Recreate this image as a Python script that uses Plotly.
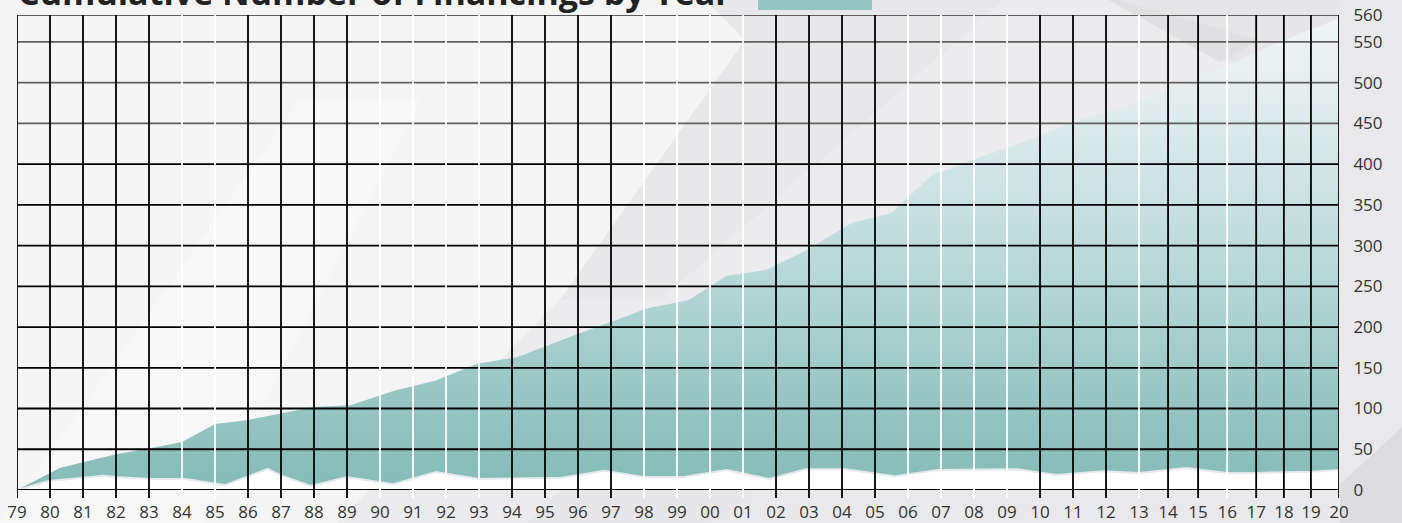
import numpy as np
import plotly.graph_objects as go

W, H = 1402, 523
ML, MR, MT, MB = 17, 63, 15, 33

title_text = "Cumulative Number of Financings by Year"

year_labels = ["79", "80", "81", "82", "83", "84", "85", "86", "87", "88", "89",
               "90", "91", "92", "93", "94", "95", "96", "97", "98", "99",
               "00", "01", "02", "03", "04", "05", "06", "07", "08", "09",
               "10", "11", "12", "13", "14", "15", "16", "17", "18", "19", "20"]
tick_years = list(range(1979, 2021))
# axis position of each year tick (last years are squeezed)
tick_pos = list(range(0, 35)) + [34.88, 35.79, 36.67, 37.55, 38.39, 39.21, 40.06]

# cumulative number of financings (upper edge of the teal area)
cum_years = [1979, 1980.3, 1981, 1982, 1983, 1984, 1985, 1986, 1987, 1988, 1989.1,
             1990.45, 1991.67, 1992.1, 1992.94, 1994.15, 1995.06, 1996.15, 1997.06,
             1998.1, 1999.35, 2000.5, 2001.7, 2003.0, 2004.3, 2005.5, 2006.75,
             2007.06, 2008, 2009, 2010, 2011, 2012, 2013, 2014, 2015, 2016, 2017,
             2018, 2019, 2020]
cum_values = [0, 27, 34, 44, 51, 59, 81, 86, 94, 102, 104,
              122, 134, 141, 155, 163, 177, 194, 207,
              223, 233, 263, 270, 296, 328, 340, 388,
              391, 406, 420, 435, 451, 464, 477, 492, 506, 520, 538,
              552, 565, 579]

# financings per year (white line)
annual_years = [1979, 1979.95, 1981, 1981.6, 1982, 1983.1, 1984.1, 1985.3, 1986.6,
                1987, 1987.9, 1989, 1990.4, 1991.7, 1993, 1995.5, 1996.8, 1998,
                1999.2, 2000.5, 2001.8, 2002.9, 2004.1, 2005.6, 2006.9, 2009.3,
                2010.5, 2011.9, 2013, 2014.6, 2016, 2017, 2019, 2020]
annual_values = [0, 11, 15, 17.5, 16, 13.5, 13.5, 6, 26,
                 18, 5, 16, 7, 22, 13.5, 15, 23.5, 16,
                 16, 24.5, 13.5, 25.5, 25.5, 17, 24.5, 25.5,
                 18.5, 23, 21, 27, 21, 21, 22.5, 24.5]

y_tickvals = [0, 50, 100, 150, 200, 250, 300, 350, 400, 450, 500, 550, 583]
y_ticktext = ["0", "50", "100", "150", "200", "250", "300", "350", "400",
              "450", "500", "550", "560"]

# styles
vgrid_colors = ["#000"] * 5 + ["#fff"] * 2 + ["#000"] * 4 + ["#fff"] * 4 + ["#000"] * 4 + \
               ["#fff"] * 4 + ["#000"] * 4 + ["#fff"] * 4 + ["#000"] * 3 + ["#fff"] + \
               ["#000"] * 2 + ["#fff"] + ["#000"] * 4
hgrid_colors = ["#000"] * 9 + ["#5f5f5f"] * 4

X_MAX = tick_pos[-1]
Y_MAX = 583

def to_axis(years):
    return np.interp(years, tick_years, tick_pos)

pw = W - ML - MR
ph = H - MT - MB
def px(x):
    return (x - ML) / pw
def py(y):
    return (H - MB - y) / ph

def poly(points):
    return "M " + " L ".join(f"{px(x):.5f},{py(y):.5f}" for x, y in points) + " Z"

fig = go.Figure()

fig.add_trace(go.Scatter(
    x=to_axis(annual_years), y=annual_values, mode="lines",
    line=dict(color="#e3e9ed", width=2),
    fill="tozeroy", fillcolor="rgba(255,255,255,0.95)",
    hoverinfo="skip", showlegend=False))

fig.add_trace(go.Scatter(
    x=to_axis(cum_years), y=cum_values, mode="lines",
    line=dict(width=0, color="rgba(0,0,0,0)"),
    fill="tonexty",
    fillgradient=dict(type="vertical", colorscale=[
        [0.0, "#84bbb8"], [0.2, "#98c6c4"], [0.45, "#b6d7d7"],
        [0.7, "rgba(210,229,230,0.95)"], [0.85, "rgba(227,238,239,0.85)"],
        [1.0, "rgba(242,247,248,0.8)"]]),
    name="Cumulative financings", hoverinfo="skip", showlegend=False))

shapes = []
# background decoration
bg = [
    ([(-5, -5), (700, -5), (745, 40), (560, 300), (330, 530), (-5, 530)], "#f5f5f6"),
    ([(-5, 530), (200, 530), (420, 100), (300, 100)], "rgba(255,255,255,0.35)"),
    ([(745, 40), (700, -5), (1010, -5), (660, 300), (560, 300)], "#e8e8ea"),
    ([(1010, -5), (1410, -5), (1410, 60), (1220, 62), (1100, -5)], "#e6e6e8"),
    ([(1100, -5), (1220, 62), (1260, 40)], "#e0e0e2"),
    ([(1340, -5), (1410, -5), (1410, 530), (1340, 530)], "#e9e9eb"),
    ([(1290, 530), (1410, 530), (1410, 420)], "#dcdcdf"),
    ([(560, 490), (760, 490), (700, 530), (520, 530)], "#e7e7e9"),
    ([(760, 490), (1340, 490), (1340, 530), (700, 530)], "#e9e9eb"),
]
for pts, col in bg:
    shapes.append(dict(type="path", path=poly(pts), xref="paper", yref="paper",
                       fillcolor=col, line=dict(width=0), layer="below"))

# legend swatch
shapes.append(dict(type="rect", xref="paper", yref="paper",
                   x0=px(758), x1=px(872), y0=py(10), y1=py(-5),
                   fillcolor="#93c5c2", line=dict(width=0), layer="above"))

# horizontal grid lines
for v, c in zip(y_tickvals, hgrid_colors):
    shapes.append(dict(type="line", xref="paper", yref="y", x0=0, x1=1, y0=v, y1=v,
                       line=dict(color=c, width=1.8), layer="above"))
# vertical grid lines
for p, c in zip(tick_pos, vgrid_colors):
    shapes.append(dict(type="line", xref="x", yref="paper", x0=p, x1=p,
                       y0=-8 / ph, y1=1, line=dict(color=c, width=1.8), layer="above"))

fig.update_layout(
    width=W, height=H,
    margin=dict(l=ML, r=MR, t=MT, b=MB, pad=0, autoexpand=False),
    paper_bgcolor="#ececee", plot_bgcolor="rgba(0,0,0,0)",
    showlegend=False,
    shapes=shapes,
    font=dict(family="Open Sans", color="#333", size=17),
    xaxis=dict(range=[0, X_MAX], tickmode="array", tickvals=tick_pos, ticktext=year_labels,
               showgrid=False, zeroline=False, showline=False, automargin=False,
               ticks="outside", ticklen=7, tickcolor="rgba(0,0,0,0)",
               tickfont=dict(size=17, color="#333")),
    yaxis=dict(range=[0, Y_MAX], side="right", tickmode="array", tickvals=y_tickvals,
               ticktext=y_ticktext, showgrid=False, zeroline=False, showline=False,
               automargin=False,
               ticks="outside", ticklen=10, tickcolor="rgba(0,0,0,0)",
               tickfont=dict(size=17, color="#333")),
    annotations=[dict(text=title_text, xref="paper", yref="paper", x=px(16), y=py(17),
                      xanchor="left", yanchor="bottom", showarrow=False,
                      font=dict(family="Open Sans", size=34, color="#222", weight="bold"))],
)

fig.write_html(
    "out.html",
    config={"displayModeBar": False, "staticPlot": True},
    post_script="document.body.style.margin='0';document.body.style.overflow='hidden';"
                "document.body.style.background='#ececee';",
)
